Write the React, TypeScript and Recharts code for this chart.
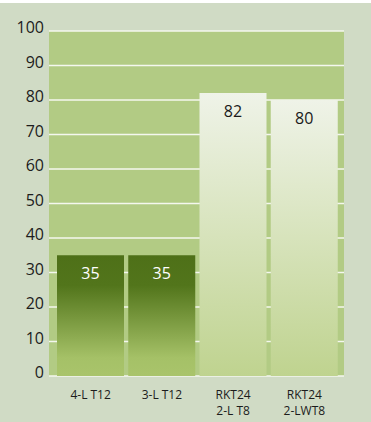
import React from "react";
import { BarChart, Bar, XAxis, YAxis, CartesianGrid, Cell, LabelList } from "recharts";

const categories = ["4-L T12", "3-L T12", "RKT24\n2-L T8", "RKT24\n2-LWT8"];
const values = [35, 35, 82, 80];
const yTicks = [0, 10, 20, 30, 40, 50, 60, 70, 80, 90, 100];

const data = categories.map((c, i) => ({ name: c, value: values[i] }));

const FONT = "'Open Sans', 'Noto Sans', sans-serif";

const YTick = (props: any) => {
  const { x, y, payload } = props;
  return (
    <text x={x + 3} y={y - 4} textAnchor="end" dominantBaseline="central" fontSize={16} fill="#1c1c1c" fontFamily={FONT}>
      {payload.value}
    </text>
  );
};

const XTick = (props: any) => {
  const { x, y, payload } = props;
  const lines = String(payload.value).split("\n");
  return (
    <g>
      {lines.map((l, i) => (
        <text
          key={i}
          x={x}
          y={y + 10 + i * 16.5}
          textAnchor="middle"
          dominantBaseline="central"
          fontSize={12}
          fill="#1c1c1c"
          fontFamily={FONT}
        >
          {l}
        </text>
      ))}
    </g>
  );
};

const ValueLabel = (props: any) => {
  const { x, y, width, value, index } = props;
  const dark = index < 2;
  return (
    <text
      x={x + width / 2}
      y={y + 18}
      textAnchor="middle"
      dominantBaseline="central"
      fontSize={16}
      fill={dark ? "#ffffff" : "#1a1a1a"}
      fontFamily={FONT}
    >
      {value}
    </text>
  );
};

export default function App() {
  return (
    <div style={{ position: "absolute", left: 0, top: 0, width: 371, height: 422, background: "#ffffff" }}>
      <div style={{ position: "absolute", left: 0, top: 3, width: 371, height: 419, background: "#d0dbc5" }} />
      <div style={{ position: "absolute", left: 0, top: 0 }}>
        <BarChart width={371} height={422} data={data} margin={{ top: 31, right: 27, bottom: 6, left: 0 }}>
          <defs>
            <linearGradient id="gDark" x1="0" y1="0" x2="0" y2="1">
              <stop offset="0" stopColor="#4e7018" />
              <stop offset="0.25" stopColor="#52751b" />
              <stop offset="0.85" stopColor="#a5c167" />
              <stop offset="1" stopColor="#a9c46b" />
            </linearGradient>
            <linearGradient id="gLight" x1="0" y1="0" x2="0" y2="1">
              <stop offset="0" stopColor="#eff3e8" />
              <stop offset="1" stopColor="#bfd38f" />
            </linearGradient>
          </defs>
          <CartesianGrid vertical={false} stroke="#f4f7ee" strokeWidth={1.5} fill="#b2cb84" />
          <XAxis
            dataKey="name"
            axisLine={false}
            tickLine={false}
            height={40}
            interval={0}
            tick={<XTick />}
            padding={{ left: 6, right: 4 }}
          />
          <YAxis
            width={49}
            domain={[0, 100]}
            ticks={yTicks}
            axisLine={false}
            tickLine={false}
            tick={<YTick />}
            interval={0}
          />
          <Bar dataKey="value" barSize={67} isAnimationActive={false}>
            {data.map((d, i) => (
              <Cell key={i} fill={i < 2 ? "url(#gDark)" : "url(#gLight)"} />
            ))}
            <LabelList dataKey="value" content={<ValueLabel />} />
          </Bar>
        </BarChart>
      </div>
    </div>
  );
}
